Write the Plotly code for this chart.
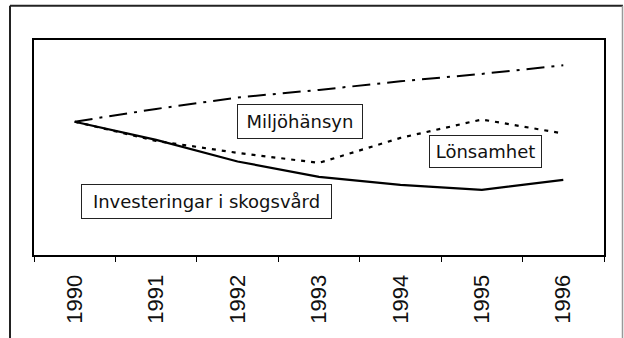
import plotly.graph_objects as go

# Index series, 1990 = 100
years = ["1990", "1991", "1992", "1993", "1994", "1995", "1996"]
miljohansyn = [100, 106.4, 112.1, 115.9, 120.2, 123.9, 128.2]
lonsamhet = [100, 90.4, 84.4, 79.4, 91.9, 101.1, 94.1]
investeringar = [100, 90.9, 80.1, 72.4, 68.4, 65.9, 70.9]

labels = ["Miljöhänsyn", "Lönsamhet", "Investeringar i skogsvård"]

fig = go.Figure()
fig.add_trace(go.Scatter(x=years, y=miljohansyn, mode="lines", name=labels[0],
                         line=dict(color="black", width=2, dash="18px,7px,3px,7px")))
fig.add_trace(go.Scatter(x=years, y=lonsamhet, mode="lines", name=labels[1],
                         line=dict(color="black", width=2.2, dash="4px,6px")))
fig.add_trace(go.Scatter(x=years, y=investeringar, mode="lines", name=labels[2],
                         line=dict(color="black", width=2.2)))

W, H = 624, 338
L, R, T, B = 34, 20, 40, 83
pw, ph = W - L - R, H - T - B


def px_x(px):
    return (px - L) / pw


def px_y(py):
    return (H - B - py) / ph


# Boxed series labels: (text, centre x, centre y, width, height) in pixels
boxes = [
    (labels[0], 300.3, 121.8, 126, 35),
    (labels[1], 485.7, 151.7, 113, 33),
    (labels[2], 206.3, 201.7, 251, 35),
]
for text, cx, cy, bw, bh in boxes:
    fig.add_annotation(
        text=text, xref="paper", yref="paper", x=px_x(cx), y=px_y(cy),
        xanchor="center", yanchor="middle", showarrow=False,
        width=bw - 2, height=bh - 2, borderpad=0,
        bordercolor="#222", borderwidth=1, bgcolor="white",
        align="center", valign="middle",
        font=dict(family="DejaVu Sans", size=18, color="#111"),
    )

# Outer frame around the whole chart
frame = "#222"
fig.add_shape(type="line", xref="paper", yref="paper",
              x0=px_x(10), x1=px_x(10), y0=px_y(5.8), y1=px_y(350),
              line=dict(color=frame, width=2))
fig.add_shape(type="line", xref="paper", yref="paper",
              x0=px_x(10), x1=px_x(623), y0=px_y(5.8), y1=px_y(5.8),
              line=dict(color=frame, width=2))
fig.add_shape(type="line", xref="paper", yref="paper",
              x0=px_x(622.5), x1=px_x(622.5), y0=px_y(5.8), y1=px_y(350),
              line=dict(color="#999", width=1.5))

fig.update_layout(
    width=W, height=H,
    margin=dict(l=L, r=R, t=T, b=B),
    paper_bgcolor="white", plot_bgcolor="white",
    showlegend=False,
    xaxis=dict(
        type="category", categoryorder="array", categoryarray=years,
        range=[-0.5, 6.5], tickson="boundaries",
        ticks="outside", ticklen=5, tickwidth=1, tickcolor="black",
        tickangle=-90, ticklabelstandoff=9, showgrid=False, zeroline=False,
        showline=True, mirror=True, linecolor="black", linewidth=2,
        tickfont=dict(family="Liberation Sans, Arial", size=22, color="#111"),
    ),
    yaxis=dict(
        range=[33.35, 140.85], showticklabels=False, ticks="",
        showgrid=False, zeroline=False,
        showline=True, mirror=True, linecolor="black", linewidth=2,
    ),
)

fig.write_html("out.html")
